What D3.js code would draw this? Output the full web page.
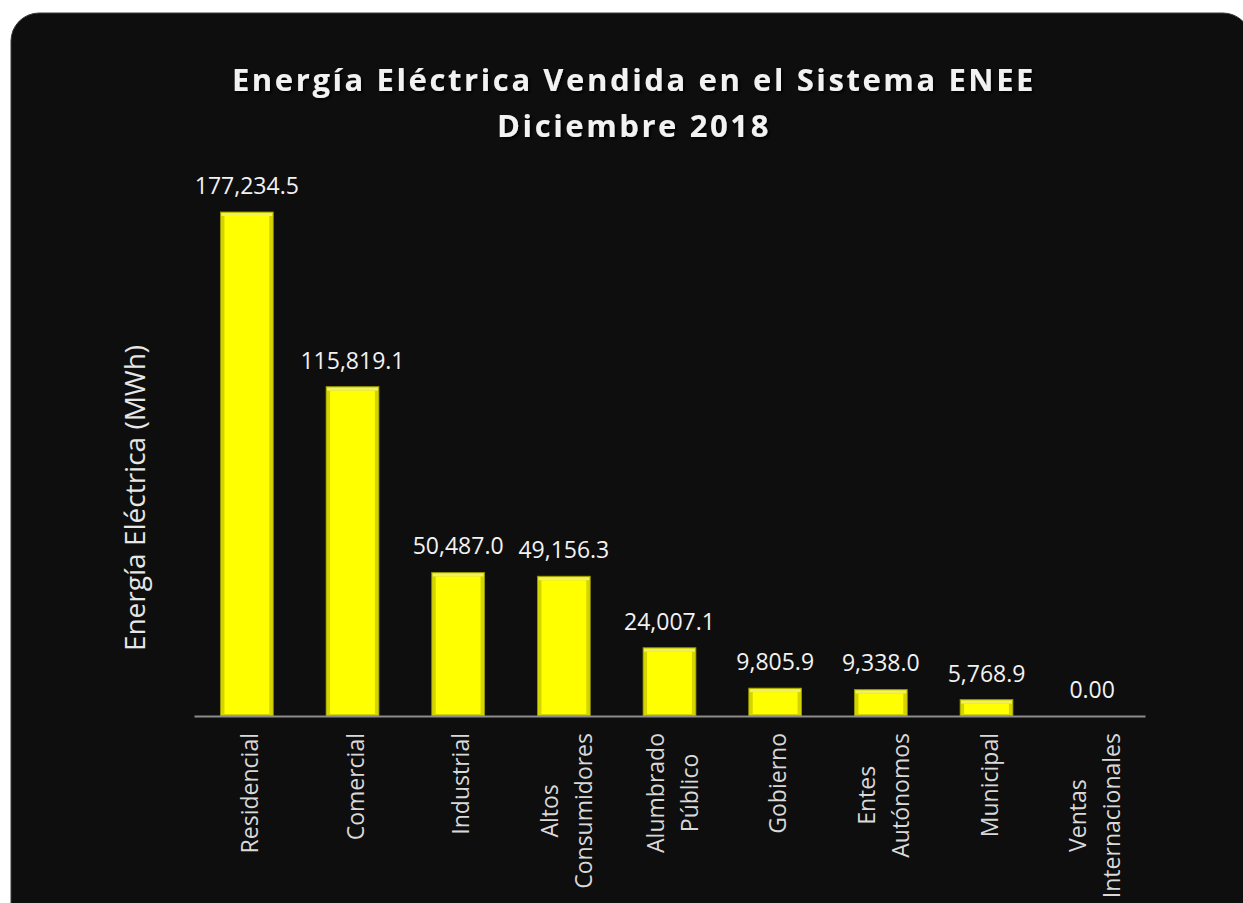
<!DOCTYPE html>
<html lang="es">
<head>
  <meta charset="UTF-8">
  <title>Energía Eléctrica Vendida</title>
  <script src="https://cdn.jsdelivr.net/npm/d3@7"></script>
  <style>
    body { margin: 0; background: #fff; }
    svg { display: block; font-family: "Open Sans", sans-serif; }
  </style>
</head>
<body>
<svg></svg>
<script>
  const width = 1243, height = 903
  const margin = {top: 212, right: 98, bottom: 187, left: 194}

  // datos
  const categories = ['Residencial', 'Comercial', 'Industrial', 'Altos Consumidores', 'Alumbrado Público',
    'Gobierno', 'Entes Autónomos', 'Municipal', 'Ventas Internacionales']
  const labelLines = [['Residencial'], ['Comercial'], ['Industrial'], ['Altos', 'Consumidores'],
    ['Alumbrado', 'Público'], ['Gobierno'], ['Entes', 'Autónomos'], ['Municipal'], ['Ventas', 'Internacionales']]
  const values = [177234.5, 115819.1, 50487.0, 49156.3, 24007.1, 9805.9, 9338.0, 5768.9, 0]
  const valueLabels = ['177,234.5', '115,819.1', '50,487.0', '49,156.3', '24,007.1', '9,805.9', '9,338.0', '5,768.9', '0.00']
  const titleLines = ['Energía Eléctrica Vendida en el Sistema ENEE', 'Diciembre 2018']
  const yTitle = 'Energía Eléctrica (MWh)'

  const data = categories.map((c, i) => ({cat: c, lines: labelLines[i], value: values[i], label: valueLabels[i]}))

  const svg = d3.select('svg')
      .attr('width', width)
      .attr('height', height)

  const defs = svg.append('defs')
  defs.append('filter').attr('id', 'shadow')
      .append('feDropShadow')
      .attr('dx', 2).attr('dy', 2).attr('stdDeviation', 1.5)
      .attr('flood-color', '#000').attr('flood-opacity', 0.9)

  // fondo del panel
  svg.append('rect')
      .attr('x', 11).attr('y', 13)
      .attr('width', 1240).attr('height', 930)
      .attr('rx', 28)
      .attr('fill', '#0e0e0e')
      .attr('stroke', '#3a3a3a')
      .attr('stroke-width', 1)

  const x = d3.scaleBand()
      .domain(categories)
      .range([margin.left, width - margin.right])
      .paddingInner(0.5)
      .paddingOuter(0.25)

  const y = d3.scaleLinear()
      .domain([0, d3.max(values)])
      .range([height - margin.bottom, margin.top])

  // barras con bisel
  const bars = svg.append('g')
    .selectAll('g')
    .data(data.filter(d => d.value > 0))
    .join('g')

  bars.append('rect')
      .attr('x', d => x(d.cat))
      .attr('y', d => y(d.value))
      .attr('width', x.bandwidth())
      .attr('height', d => y(0) - y(d.value))
      .attr('fill', '#d4d400')
      .attr('stroke', '#9a9a00')
      .attr('stroke-width', 0.8)

  bars.append('rect')
      .attr('x', d => x(d.cat) + 4)
      .attr('y', d => y(d.value) + 4)
      .attr('width', x.bandwidth() - 8)
      .attr('height', d => Math.max(0, y(0) - y(d.value) - 6))
      .attr('fill', '#ffff00')

  bars.append('rect')
      .attr('x', d => x(d.cat) + 1)
      .attr('y', d => y(d.value) + 1)
      .attr('width', x.bandwidth() - 2)
      .attr('height', 3)
      .attr('fill', '#f0f060')

  // eje X
  svg.append('g')
      .attr('transform', `translate(0,${y(0)})`)
      .call(d3.axisBottom(x).tickSize(0).tickFormat(''))
      .call(g => g.select('.domain').attr('stroke', '#8c8c8c').attr('stroke-width', 2))

  // etiquetas de categoría (rotadas)
  const cats = svg.append('g')
    .selectAll('text')
    .data(data)
    .join('text')
      .attr('transform', d => `translate(${x(d.cat) + x.bandwidth() / 2},${y(0) + 17}) rotate(-90)`)
      .attr('fill', '#d9d9d9')
      .attr('font-size', 23)
      .attr('text-anchor', 'middle')

  cats.each(function(d) {
    const t = d3.select(this)
    const n = d.lines.length
    d.lines.forEach((l, i) => {
      t.append('tspan')
          .attr('x', 0)
          .attr('y', (i - (n - 1) / 2) * 34 + 11)
          .text(l)
    })
    let w = 0
    t.selectAll('tspan').each(function() { w = Math.max(w, this.getComputedTextLength()) })
    t.selectAll('tspan').attr('x', -w / 2)
  })

  // valores
  svg.append('g')
    .selectAll('text')
    .data(data)
    .join('text')
      .attr('x', d => x(d.cat) + x.bandwidth() / 2)
      .attr('y', d => y(d.value) - 18)
      .attr('text-anchor', 'middle')
      .attr('fill', '#f2f2f2')
      .attr('font-size', 23)
      .text(d => d.label)

  // título del eje Y
  svg.append('text')
      .attr('transform', `translate(145,498) rotate(-90)`)
      .attr('text-anchor', 'middle')
      .attr('fill', '#e6e6e6')
      .attr('font-size', 28)
      .text(yTitle)

  // título
  svg.append('g')
      .attr('filter', 'url(#shadow)')
    .selectAll('text')
    .data(titleLines)
    .join('text')
      .attr('x', 634)
      .attr('y', (d, i) => 91 + i * 46)
      .attr('text-anchor', 'middle')
      .attr('fill', '#f2f2f2')
      .attr('font-size', 31)
      .attr('font-weight', 'bold')
      .attr('letter-spacing', 2.6)
      .text(d => d)
</script>
</body>
</html>
